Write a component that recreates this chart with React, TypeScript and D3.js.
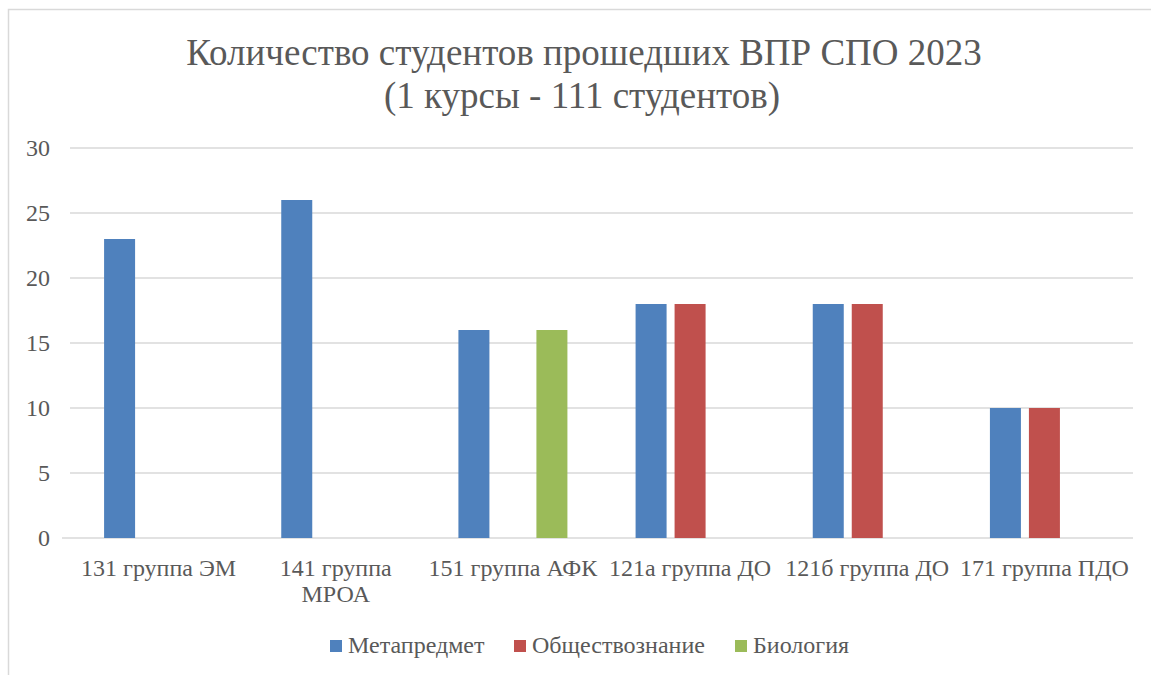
import * as d3 from "d3";

const categories = [
  "131 группа ЭМ",
  "141 группа\nМРОА",
  "151 группа АФК",
  "121а группа ДО",
  "121б группа ДО",
  "171 группа ПДО",
];
const seriesNames = ["Метапредмет", "Обществознание", "Биология"];
const colors = ["#4f81bd", "#c0504d", "#9bbb59"];
const metapredmet = [23, 26, 16, 18, 18, 10];
const obshchestvo = [0, 0, 0, 18, 18, 10];
const biologiya = [0, 0, 16, 0, 0, 0];
const yTicks = [0, 5, 10, 15, 20, 25, 30];

const width = 1151;
const height = 675;
const plot = { left: 70, right: 1133, top: 148, bottom: 538 };
const textColor = "#595959";
const serif = "serif";

const App = () => {
  const values = [metapredmet, obshchestvo, biologiya];

  const x0 = d3.scaleBand<string>().domain(categories).range([plot.left, plot.right]);
  const x1 = d3
    .scaleBand<string>()
    .domain(seriesNames)
    .range([0, x0.bandwidth()])
    .paddingInner(0.205)
    .paddingOuter(0.874);
  const y = d3.scaleLinear().domain([0, 30]).range([plot.bottom, plot.top]);

  const legendX = [330, 514, 735];

  return (
    <svg width={width} height={height} style={{ position: "absolute", left: 0, top: 0 }}>
      {/* chart area border */}
      <rect x={8.5} y={9.5} width={1170} height={700} fill="#fff" stroke="#d9d9d9" strokeWidth={1.5} />

      {/* title */}
      <text x={584} y={65} textAnchor="middle" fontFamily={serif} fontSize={37} fill={textColor}>
        Количество студентов прошедших ВПР СПО 2023
      </text>
      <text x={582} y={108} textAnchor="middle" fontFamily={serif} fontSize={37} fill={textColor}>
        (1 курсы - 111 студентов)
      </text>

      {/* gridlines + y labels */}
      {yTicks.map((t) => (
        <g key={t}>
          <line
            x1={t === 0 ? plot.left - 8 : plot.left}
            x2={plot.right}
            y1={y(t)}
            y2={y(t)}
            stroke="#d9d9d9"
            strokeWidth={1.5}
          />
          <text
            x={50}
            y={y(t)}
            dy="0.35em"
            textAnchor="end"
            fontFamily={serif}
            fontSize={24}
            fill={textColor}
          >
            {t}
          </text>
        </g>
      ))}

      {/* bars */}
      {categories.map((c, i) => (
        <g key={c} transform={`translate(${x0(c)},0)`}>
          {seriesNames.map((s, j) =>
            values[j][i] > 0 ? (
              <rect
                key={s}
                x={x1(s)}
                y={y(values[j][i])}
                width={x1.bandwidth()}
                height={y(0) - y(values[j][i])}
                fill={colors[j]}
              />
            ) : null
          )}
        </g>
      ))}

      {/* category labels */}
      {categories.map((c) => (
        <text
          key={c}
          x={(x0(c) ?? 0) + x0.bandwidth() / 2}
          y={576}
          textAnchor="middle"
          fontFamily={serif}
          fontSize={24}
          fill={textColor}
        >
          {c.split("\n").map((line, k) => (
            <tspan key={k} x={(x0(c) ?? 0) + x0.bandwidth() / 2} dy={k === 0 ? 0 : 26}>
              {line}
            </tspan>
          ))}
        </text>
      ))}

      {/* legend */}
      {seriesNames.map((s, j) => (
        <g key={s} transform={`translate(${legendX[j]},646)`}>
          <rect x={0} y={-6} width={12} height={12} fill={colors[j]} />
          <text x={18} y={0} dy="0.3em" fontFamily={serif} fontSize={24} fill={textColor}>
            {s}
          </text>
        </g>
      ))}
    </svg>
  );
};

export default App;
